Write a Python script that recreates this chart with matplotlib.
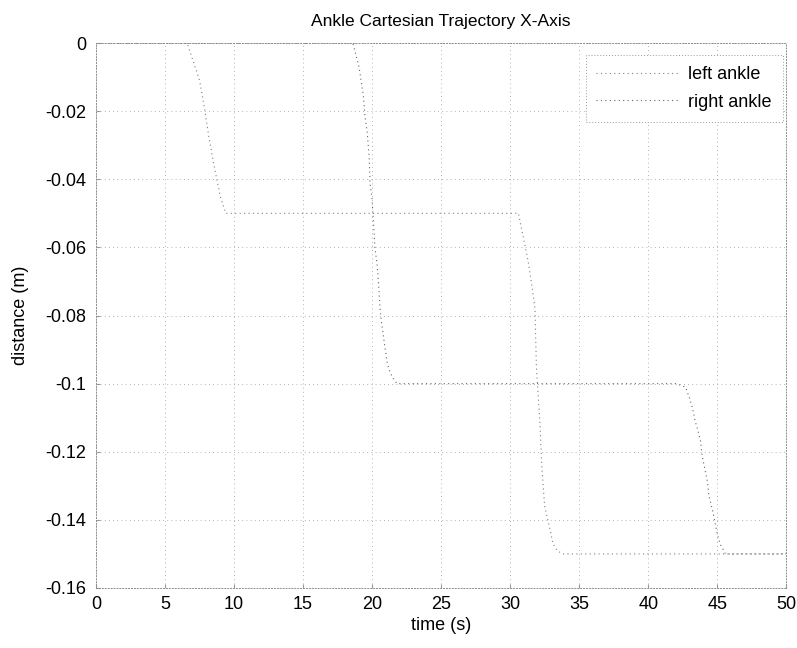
import matplotlib
matplotlib.use("Agg")
import matplotlib.pyplot as plt

# DATA
left_t = [0, 6.6, 7.5, 7.85, 8.15, 8.5, 8.65, 9.0, 9.4, 30.6, 31.0, 31.3, 31.6,
          31.8, 31.9, 32.15, 32.3, 32.5, 32.9, 33.1, 33.4, 33.8, 50]
left_x = [0, 0, -0.011, -0.019, -0.027, -0.035, -0.038, -0.045, -0.05, -0.05,
          -0.058, -0.064, -0.072, -0.078, -0.095, -0.111, -0.125, -0.136,
          -0.143, -0.147, -0.149, -0.15, -0.15]

right_t = [0, 18.6, 19.05, 19.35, 19.5, 19.64, 19.78, 19.85, 20.0, 20.07, 20.15,
           20.2, 20.36, 20.44, 20.5, 20.58, 20.65, 20.95, 21.1, 21.24, 21.45,
           21.8, 42.0, 42.3, 42.7, 42.97, 43.2, 43.4, 43.55, 43.8, 43.9, 44.1,
           44.3, 44.4, 44.65, 44.85, 45.0, 45.2, 45.6, 46.0, 50]
right_x = [0, 0, -0.007, -0.015, -0.022, -0.026, -0.033, -0.041, -0.046, -0.051,
           -0.056, -0.060, -0.065, -0.069, -0.073, -0.078, -0.081, -0.090,
           -0.094, -0.096, -0.098, -0.1, -0.1, -0.1004, -0.101, -0.104, -0.107,
           -0.111, -0.113, -0.117, -0.121, -0.125, -0.129, -0.133, -0.137,
           -0.141, -0.144, -0.147, -0.150, -0.15, -0.15]

x_ticks = [0, 5, 10, 15, 20, 25, 30, 35, 40, 45, 50]
y_ticks = [0, -0.02, -0.04, -0.06, -0.08, -0.1, -0.12, -0.14, -0.16]
y_labels = ["0", "-0.02", "-0.04", "-0.06", "-0.08", "-0.1", "-0.12", "-0.14", "-0.16"]

plt.rcParams['font.family'] = ['Liberation Sans', 'DejaVu Sans']
plt.rcParams['font.size'] = 13

fig = plt.figure(figsize=(7.97, 6.48), dpi=100)
ax = fig.add_axes([0.1205, 0.0926, 0.866, 0.841])

dots = (0, (1, 3))
ax.plot(left_t, left_x, color='0.5', lw=0.8, ls=dots, label='left ankle')
ax.plot(right_t, right_x, color='0.4', lw=0.8, ls=dots, label='right ankle')

ax.set_xlim(0, 50)
ax.set_ylim(-0.16, 0)
ax.set_xticks(x_ticks)
ax.set_yticks(y_ticks)
ax.set_yticklabels(y_labels)
ax.grid(True, color='0.6', ls=(0, (1, 4)), lw=0.6)

for s in ax.spines.values():
    s.set_color('0.55')
    s.set_linestyle((0, (1, 2)))
    s.set_linewidth(0.7)
ax.tick_params(direction='in', length=3, color='0.6')
ax.tick_params(axis='x', pad=6)
ax.tick_params(axis='y', pad=7)

ax.set_title("Ankle Cartesian Trajectory X-Axis", fontsize=12.5, pad=12)
ax.set_xlabel("time (s)", labelpad=3)
ax.set_ylabel("distance (m)", labelpad=12)

leg = ax.legend(loc='upper right', bbox_to_anchor=(0.995, 0.978), fancybox=False,
                framealpha=1, handlelength=4.6, handletextpad=0.5,
                borderaxespad=0, borderpad=0.6, labelspacing=0.6)
leg.get_frame().set_edgecolor('0.6')
leg.get_frame().set_linestyle((0, (1, 2)))
leg.get_frame().set_linewidth(0.7)

fig.savefig("out.png", dpi=100)
